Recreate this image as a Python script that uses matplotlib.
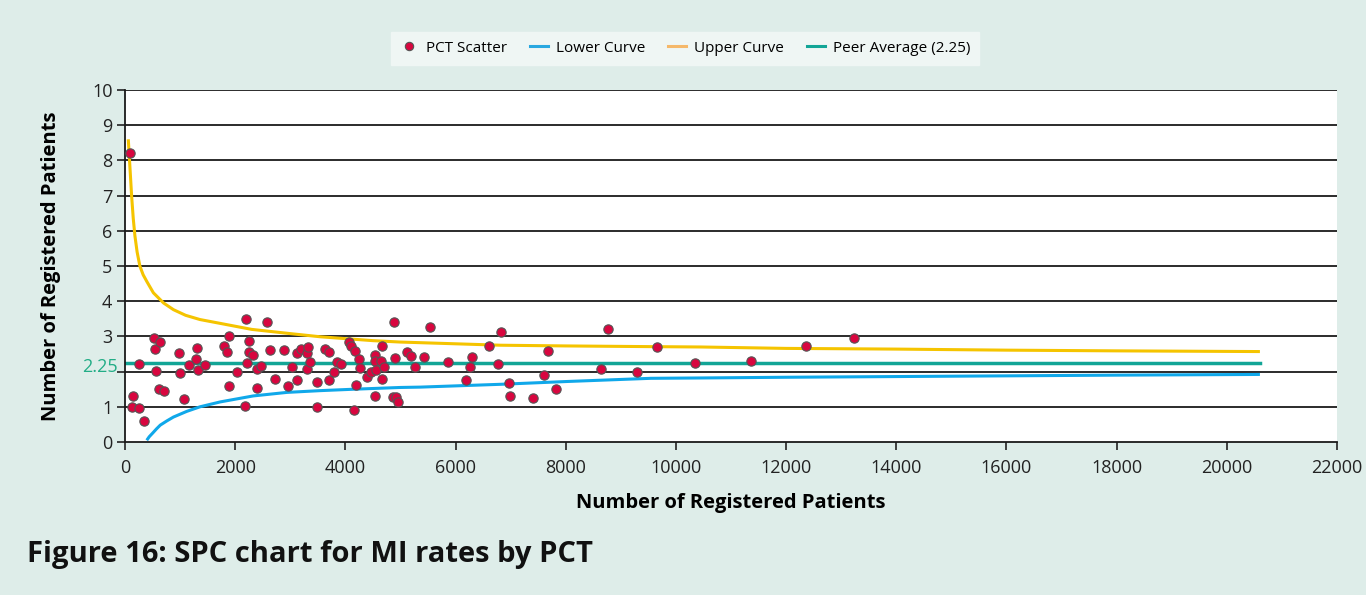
import matplotlib.pyplot as plt
from matplotlib.lines import Line2D
import matplotlib.transforms as mtransforms

plt.rcParams['font.family'] = ['Open Sans', 'DejaVu Sans']

# PCT scatter points: registered patients, rate
pct_x = [90, 135, 150, 255, 250, 345, 520, 550, 565, 610, 640, 710, 975, 1005,
         1080, 1165, 1290, 1300, 1330, 1460, 1800, 1850, 1885, 1895, 2030, 2180,
         2200, 2210, 2250, 2260, 2315, 2390, 2400, 2470, 2580, 2630, 2715, 2890,
         2960, 3030, 3120, 3130, 3190, 3300, 3310, 3330, 3360, 3480, 3480, 3625,
         3700, 3700, 3795, 3850, 3915, 4060, 4110, 4160, 4180, 4195, 4250, 4265,
         4400, 4460, 4535, 4540, 4540, 4560, 4650, 4660, 4670, 4710, 4865, 4880,
         4910, 4915, 4950, 5110, 5200, 5255, 5425, 5530, 5855, 6195, 6270, 6290,
         6600, 6775, 6830, 6970, 6990, 7405, 7610, 7685, 7820, 8640, 8760, 9285,
         9660, 10345, 11360, 12360, 13240]
pct_y = [8.2, 1.0, 1.3, 0.96, 2.22, 0.6, 2.96, 2.64, 2.02, 1.51, 2.83, 1.44, 2.53, 1.95,
         1.21, 2.18, 2.35, 2.66, 2.05, 2.18, 2.74, 2.56, 3.0, 1.6, 1.99, 1.03,
         3.49, 2.25, 2.88, 2.55, 2.46, 1.54, 2.08, 2.16, 3.42, 2.61, 1.79, 2.61,
         1.58, 2.13, 1.75, 2.53, 2.65, 2.53, 2.08, 2.7, 2.26, 1.71, 1.0, 2.64,
         2.55, 1.76, 1.98, 2.27, 2.22, 2.83, 2.74, 0.9, 2.59, 1.63, 2.35, 2.1,
         1.86, 2.0, 2.46, 2.3, 1.31, 2.06, 2.31, 1.79, 2.73, 2.13, 1.28, 3.41,
         2.38, 1.28, 1.13, 2.57, 2.43, 2.13, 2.41, 3.28, 2.27, 1.76, 2.13, 2.42,
         2.72, 2.21, 3.13, 1.68, 1.31, 1.26, 1.89, 2.6, 1.51, 2.08, 3.21, 2.0,
         2.7, 2.25, 2.3, 2.73, 2.95]

upper_x = [60, 75, 90, 105, 120, 150, 180, 220, 270, 330, 400, 515, 700, 880, 1100,
           1360, 1730, 2300, 3000, 3545, 4500, 5000, 6820, 8000, 9545, 10450, 12000,
           14000, 16000, 18000, 20600]
upper_y = [8.6, 8.2, 7.8, 7.4, 7.0, 6.35, 5.86, 5.4, 5.0, 4.75, 4.55, 4.24, 3.95, 3.76, 3.6,
           3.48, 3.37, 3.2, 3.08, 2.99, 2.88, 2.84, 2.75, 2.73, 2.71, 2.7, 2.66,
           2.64, 2.61, 2.59, 2.57]

lower_x = [395, 440, 500, 570, 640, 760, 880, 1120, 1360, 1730, 2330, 2940, 3545, 4150,
           5000, 5360, 6820, 8030, 9545, 10450, 12000, 14000, 16000, 18000, 20600]
lower_y = [0.05, 0.15, 0.25, 0.37, 0.48, 0.6, 0.71, 0.87, 1.0, 1.14, 1.31, 1.41, 1.46, 1.5,
           1.55, 1.56, 1.64, 1.72, 1.81, 1.82, 1.84, 1.86, 1.88, 1.9, 1.92]

peer_avg = 2.25
peer_x = [0, 20600]

x_ticks = list(range(0, 22001, 2000))
y_ticks = list(range(0, 11))
y_labels = ['' if v == 2 else str(v) for v in y_ticks]

bg = '#deede9'
fig = plt.figure(figsize=(13.66, 5.95), dpi=100, facecolor=bg)
ax = fig.add_axes([0.0915, 0.2571, 0.8873, 0.5916])
ax.set_facecolor('white')

for yv in y_ticks[1:]:
    ax.axhline(yv, color='#1a1a1a', lw=1.3, zorder=1)

ax.plot(upper_x, upper_y, color='#f5c400', lw=2.2, zorder=2, solid_capstyle='butt')
ax.plot(lower_x, lower_y, color='#10a8ea', lw=2.2, zorder=2, solid_capstyle='butt')
ax.plot(peer_x, [peer_avg, peer_avg], color='#12a596', lw=2.5, zorder=2)
ax.scatter(pct_x, pct_y, s=45, color='#d8063f', edgecolors='#555555', linewidths=0.8, zorder=3)

ax.set_xlim(0, 22000)
ax.set_ylim(0, 10)
ax.set_xticks(x_ticks)
ax.set_yticks(y_ticks)
ax.set_yticklabels(y_labels)
ax.tick_params(axis='both', labelsize=13, colors='#222222', length=6, width=1.2, direction='out')
ax.tick_params(axis='x', pad=6)
ax.tick_params(axis='y', pad=3)
for s in ['top', 'right']:
    ax.spines[s].set_visible(False)
for s in ['left', 'bottom']:
    ax.spines[s].set_color('#1a1a1a')
    ax.spines[s].set_linewidth(1.3)

trans = mtransforms.blended_transform_factory(ax.transAxes, ax.transData)
ax.text(-0.006, 2.12, '2.25', transform=trans, ha='right', va='center',
        fontsize=13, color='#22ad86')

ax.set_xlabel('Number of Registered Patients', fontsize=14.5, fontweight='bold', labelpad=12)
ax.set_ylabel('Number of Registered Patients', fontsize=14.5, fontweight='bold', labelpad=22)

handles = [
    Line2D([], [], marker='o', ls='none', markersize=6, markerfacecolor='#d8063f',
           markeredgecolor='#555555', markeredgewidth=0.8),
    Line2D([], [], color='#29a8e0', lw=2.2),
    Line2D([], [], color='#f5b86a', lw=2.2),
    Line2D([], [], color='#12a596', lw=2.2),
]
labels = ['PCT Scatter', 'Lower Curve', 'Upper Curve', 'Peer Average (2.25)']
leg = fig.legend(handles, labels, loc='center', bbox_to_anchor=(0.5015, 0.919), ncol=4,
                 fontsize=11, frameon=True, fancybox=False, handlelength=1.2,
                 handletextpad=0.5, columnspacing=1.5, borderpad=0.6)
leg.get_frame().set_facecolor('#eff6f4')
leg.get_frame().set_edgecolor('#eff6f4')
leg.get_frame().set_alpha(1)

fig.text(0.0198, 0.055, 'Figure 16: SPC chart for MI rates by PCT', fontsize=21,
         fontweight='bold', color='#111111', ha='left', va='baseline')

fig.savefig('out.png', dpi=100, facecolor=bg)
